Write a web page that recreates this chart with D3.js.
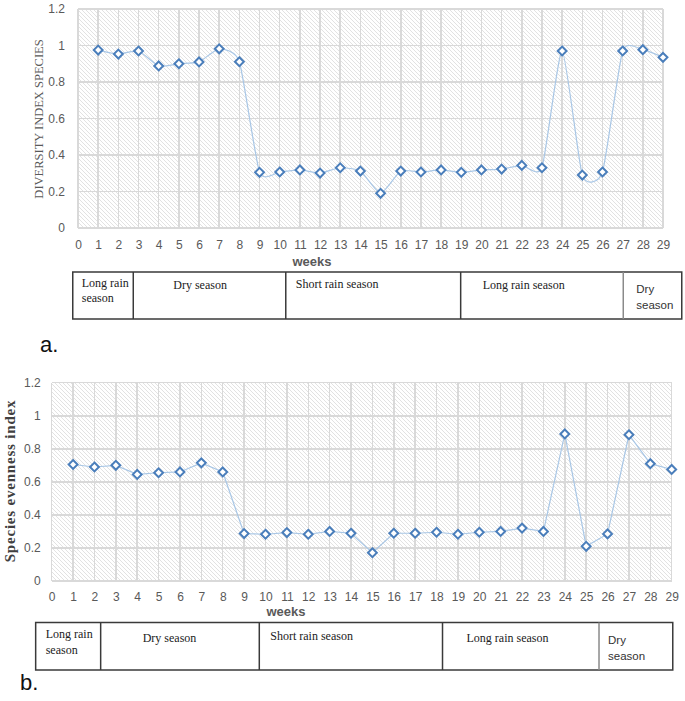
<!DOCTYPE html>
<html>
<head>
<meta charset="utf-8">
<title>Diversity and evenness index by week</title>
<script src="https://cdn.jsdelivr.net/npm/d3@7"></script>
<style>
body { margin: 0; background: #fff; }
.tick text { font-family: "Liberation Sans", Arial, sans-serif; font-size: 12px; fill: #595959; }
.grid line { stroke: #d9d9d9; stroke-width: 1.5; shape-rendering: crispEdges; }
.season-box { fill: none; stroke: #3a3a3a; stroke-width: 1.5; }
.season-serif { font-family: "Liberation Serif", "Times New Roman", serif; font-size: 12px; fill: #222; }
.season-sans { font-family: "Liberation Sans", Arial, sans-serif; font-size: 11.5px; fill: #333; }
.weeks-label { font-family: "Liberation Sans", Arial, sans-serif; font-size: 13px; font-weight: bold; fill: #595959; }
.panel-label { font-family: "Liberation Sans", Arial, sans-serif; font-size: 22px; fill: #111; }
</style>
</head>
<body>
<div id="chart"></div>
<script>
// ---- data ----
var weeks = [1,2,3,4,5,6,7,8,9,10,11,12,13,14,15,16,17,18,19,20,21,22,23,24,25,26,27,28,29];
var xTicks = [0].concat(weeks);
var yTicks = [0, 0.2, 0.4, 0.6, 0.8, 1, 1.2];

var diversityIndex = [0.975,0.953,0.97,0.888,0.90,0.91,0.982,0.911,0.305,0.307,0.318,0.301,0.33,0.312,0.19,
                      0.312,0.307,0.318,0.305,0.318,0.323,0.343,0.33,0.97,0.29,0.307,0.97,0.977,0.935];
var evennessIndex = [0.705,0.69,0.70,0.645,0.655,0.66,0.715,0.66,0.287,0.283,0.293,0.283,0.30,0.289,0.171,
                     0.289,0.289,0.295,0.283,0.295,0.30,0.32,0.30,0.89,0.21,0.285,0.885,0.71,0.675];

var seasonNames = ["Long rain season", "Dry season", "Short rain season", "Long rain season", "Dry season"];
// season boundaries in week units, as drawn under each panel
var seasonBoundsA = [-0.26, 2.74, 10.3, 18.97, 27.03, 29.93];
var seasonBoundsB = [-0.75, 2.29, 9.71, 18.28, 25.6, 29.05];

// ---- layout ----
var W = 685, H = 701;
var svg = d3.select("#chart").append("svg").attr("width", W).attr("height", H);

var defs = svg.append("defs");
var pat = defs.append("pattern").attr("id", "hatch")
    .attr("patternUnits", "userSpaceOnUse").attr("width", 4).attr("height", 4);
pat.append("rect").attr("width", 4).attr("height", 4).attr("fill", "#fff");
pat.append("path").attr("d", "M-1,-1L5,5M-1,3L1,5M3,-1L5,1")
    .attr("stroke", "#dadada").attr("stroke-width", 0.8);

// how the season labels sit inside their boxes (dx from box start, baselines from box top)
var seasonTextA = [
  { lines: ["Long rain", "season"], dx: 9, dy: [15, 30], cls: "season-serif" },
  { lines: ["Dry season"], dx: 40, dy: [17], cls: "season-serif" },
  { lines: ["Short rain season"], dx: 10, dy: [16], cls: "season-serif" },
  { lines: ["Long rain season"], dx: 22, dy: [17], cls: "season-serif" },
  { lines: ["Dry", "season"], dx: 13, dy: [21, 37], cls: "season-sans" }
];
var seasonTextB = [
  { lines: ["Long rain", "season"], dx: 10, dy: [15, 31], cls: "season-serif" },
  { lines: ["Dry season"], dx: 42, dy: [19], cls: "season-serif" },
  { lines: ["Short rain season"], dx: 11, dy: [17], cls: "season-serif" },
  { lines: ["Long rain season"], dx: 24, dy: [19], cls: "season-serif" },
  { lines: ["Dry", "season"], dx: 9, dy: [21, 37], cls: "season-sans" }
];

function drawPanel(cfg) {
  var x = d3.scaleLinear().domain([0, 29]).range([cfg.left, cfg.right]);
  var y = d3.scaleLinear().domain([0, 1.2]).range([cfg.bottom, cfg.top]);
  var g = svg.append("g");

  g.append("rect")
    .attr("x", cfg.left).attr("y", cfg.top)
    .attr("width", cfg.right - cfg.left).attr("height", cfg.bottom - cfg.top)
    .attr("fill", "url(#hatch)");

  // grid
  var grid = g.append("g").attr("class", "grid");
  grid.selectAll(".vx").data(xTicks).enter().append("line")
    .attr("x1", function (d) { return x(d); }).attr("x2", function (d) { return x(d); })
    .attr("y1", cfg.top).attr("y2", cfg.bottom);
  grid.selectAll(".hy").data(yTicks).enter().append("line")
    .attr("x1", cfg.left).attr("x2", cfg.right)
    .attr("y1", function (d) { return y(d); }).attr("y2", function (d) { return y(d); });

  // axes (labels only)
  var xAxis = d3.axisBottom(x).tickValues(xTicks).tickSize(0).tickPadding(cfg.xPad).tickFormat(d3.format("d"));
  var yAxis = d3.axisLeft(y).tickValues(yTicks).tickSize(0).tickPadding(cfg.yPad)
    .tickFormat(function (d) { return String(+d.toFixed(1)); });
  g.append("g").attr("transform", "translate(0," + cfg.bottom + ")").call(xAxis)
    .call(function (s) { s.select(".domain").remove(); });
  g.append("g").attr("transform", "translate(" + cfg.left + ",0)").call(yAxis)
    .call(function (s) { s.select(".domain").remove(); });

  // series
  var pts = weeks.map(function (w, i) { return [w, cfg.values[i]]; });
  var line = d3.line()
    .x(function (d) { return x(d[0]); })
    .y(function (d) { return y(d[1]); })
    .curve(cfg.curve);
  g.append("path").datum(pts).attr("d", line)
    .attr("fill", "none").attr("stroke", "#a9c7e6").attr("stroke-width", 1.2);

  var sym = d3.symbol().type(d3.symbolDiamond2).size(50);
  g.selectAll(".pt").data(pts).enter().append("path")
    .attr("d", sym)
    .attr("transform", function (d) { return "translate(" + x(d[0]) + "," + y(d[1]) + ")"; })
    .attr("fill", "#fff").attr("stroke", "#4a7ebb").attr("stroke-width", 2);

  // y title
  g.append("text")
    .attr("transform", "translate(" + cfg.yTitleX + "," + cfg.yTitleY + ") rotate(-90)")
    .attr("text-anchor", "middle")
    .attr("style", cfg.yTitleStyle)
    .text(cfg.yTitle);

  // x title
  g.append("text").attr("class", "weeks-label")
    .attr("x", cfg.weeksX).attr("y", cfg.weeksY)
    .attr("text-anchor", "middle")
    .text("weeks");

  // season table
  var b = cfg.bounds;
  g.append("rect").attr("class", "season-box")
    .attr("x", x(b[0])).attr("y", cfg.boxTop)
    .attr("width", x(b[b.length - 1]) - x(b[0])).attr("height", cfg.boxH);
  g.selectAll(".div").data(b.slice(1, -1)).enter().append("line")
    .attr("x1", function (d) { return x(d); }).attr("x2", function (d) { return x(d); })
    .attr("y1", cfg.boxTop).attr("y2", cfg.boxTop + cfg.boxH)
    .attr("stroke", function (d, i) { return i === 3 ? "#8a8a8a" : "#3a3a3a"; })
    .attr("stroke-width", 1.5);

  seasonNames.forEach(function (name, i) {
    var t = cfg.seasonText[i];
    var txt = g.append("text").attr("class", t.cls);
    t.lines.forEach(function (ln, j) {
      txt.append("tspan").attr("x", x(b[i]) + t.dx).attr("y", cfg.boxTop + t.dy[j]).text(ln);
    });
  });

  g.append("text").attr("class", "panel-label")
    .attr("x", cfg.tagX).attr("y", cfg.tagY).text(cfg.tag);
}

drawPanel({
  values: diversityIndex, curve: d3.curveCardinal.tension(0.45),
  left: 78, right: 663, top: 9, bottom: 228, xPad: 12, yPad: 13,
  yTitle: "DIVERSITY INDEX SPECIES", yTitleX: 43, yTitleY: 119,
  yTitleStyle: "font-family:'Liberation Serif','Times New Roman',serif;font-size:12.5px;fill:#595959;",
  weeksX: 312, weeksY: 266,
  bounds: seasonBoundsA, boxTop: 272, boxH: 47, seasonText: seasonTextA,
  tag: "a.", tagX: 40, tagY: 352
});

drawPanel({
  values: evennessIndex, curve: d3.curveLinear,
  left: 51.7, right: 671.7, top: 382.7, bottom: 581, xPad: 11, yPad: 11,
  yTitle: "Species evenness index", yTitleX: 15, yTitleY: 481,
  yTitleStyle: "font-family:'Liberation Serif','Times New Roman',serif;font-size:15px;font-weight:bold;letter-spacing:0.8px;fill:#404040;",
  weeksX: 286, weeksY: 616,
  bounds: seasonBoundsB, boxTop: 622.5, boxH: 47.5, seasonText: seasonTextB,
  tag: "b.", tagX: 20, tagY: 690
});
</script>
</body>
</html>
